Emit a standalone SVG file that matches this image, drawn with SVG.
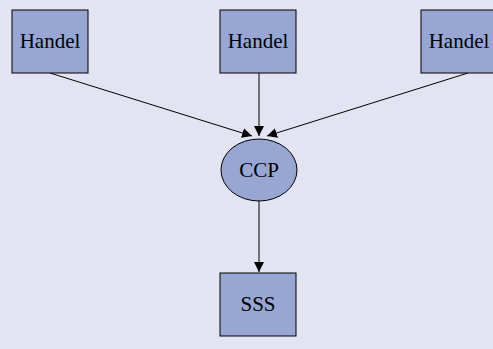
<svg xmlns="http://www.w3.org/2000/svg" width="493" height="349" viewBox="0 0 493 349">
<defs>
<style>
.n{fill:#97a6d2;stroke:#000;stroke-width:1}
.t{font-family:'Liberation Serif','Times New Roman',serif;font-size:21px;fill:#000;text-anchor:middle}
.e{stroke:#000;stroke-width:1;fill:none;marker-end:url(#a)}
</style>
<marker id="a" viewBox="0 0 10 10" refX="10" refY="5" markerWidth="10" markerHeight="10" markerUnits="userSpaceOnUse" orient="auto">
<path d="M0,0 L10,5 L0,10 z" fill="#000"/>
</marker>
</defs>
<rect width="493" height="349" fill="#e2e5f1"/>
<g id="connectors">
<line class="e" x1="50" y1="73" x2="252" y2="136"/>
<line class="e" x1="259" y1="73" x2="259" y2="136"/>
<line class="e" x1="468" y1="73" x2="267" y2="136"/>
<line class="e" x1="259" y1="201" x2="259" y2="272"/>
</g>
<g id="handel1"><rect class="n" x="12" y="10" width="76" height="63"/><text class="t" x="50" y="48">Handel</text></g>
<g id="handel2"><rect class="n" x="220" y="10" width="76" height="63"/><text class="t" x="258" y="48">Handel</text></g>
<g id="handel3"><rect class="n" x="421" y="10" width="76" height="63"/><text class="t" x="459" y="48">Handel</text></g>
<g id="ccp"><ellipse class="n" cx="259" cy="170" rx="38" ry="31"/><text class="t" x="259" y="177">CCP</text></g>
<g id="sss"><rect class="n" x="220" y="273" width="76" height="63"/><text class="t" x="258" y="311">SSS</text></g>
</svg>
